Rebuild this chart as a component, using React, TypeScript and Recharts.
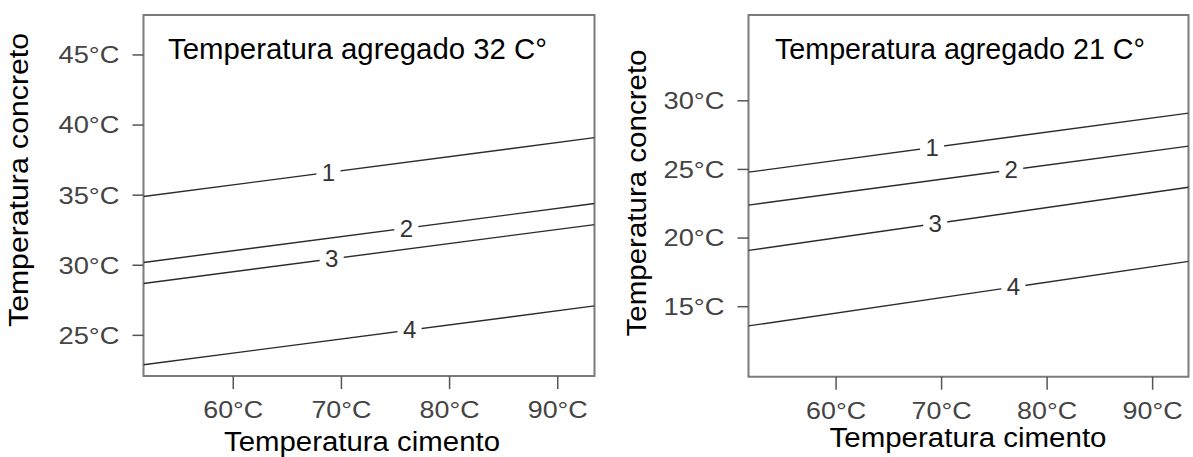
import React from "react";
import { LineChart, Line, XAxis, YAxis, ReferenceArea, ReferenceDot } from "recharts";

const FONT = "'Liberation Sans', Arial, Helvetica, sans-serif";

const curveIds = ["1", "2", "3", "4"];
const cementRange = [51.7, 93.4];
const cementTicks = [60, 70, 80, 90];

// agregado 32 °C
const agg32Ticks = [25, 30, 35, 40, 45];
const agg32Range = [22.1, 47.85];
const agg32Start = [34.9, 30.2, 28.7, 22.9];
const agg32End = [39.1, 34.4, 32.9, 27.1];
const agg32LabelAt = [68.8, 76.0, 69.1, 76.3];

// agregado 21 °C
const agg21Ticks = [15, 20, 25, 30];
const agg21Range = [9.9, 36.25];
const agg21Start = [24.8, 22.4, 19.1, 13.6];
const agg21End = [29.1, 26.7, 23.7, 18.3];
const agg21LabelAt = [69.1, 76.6, 69.4, 76.8];

function YTick(props: any) {
  const { x, y, payload } = props;
  return (
    <text x={x} y={y} dy="0.35em" textAnchor="end" fontSize={24} fill="#444" fontFamily={FONT}
      textLength={61} lengthAdjust="spacingAndGlyphs">
      {payload.value}°C
    </text>
  );
}

function XTick(props: any) {
  const { x, y, payload } = props;
  return (
    <text x={x} y={y + 29} textAnchor="middle" fontSize={24} fill="#444" fontFamily={FONT}
      textLength={60} lengthAdjust="spacingAndGlyphs">
      {payload.value}°C
    </text>
  );
}

function CurveTag(props: any) {
  const { cx, cy, name } = props;
  return (
    <g>
      <rect x={cx - 12} y={cy - 10} width={24} height={20} fill="#fff" />
      <text x={cx} y={cy} dy="0.35em" textAnchor="middle" fontSize={24} fill="#333" fontFamily={FONT}>
        {name}
      </text>
    </g>
  );
}

interface PanelProps {
  width: number;
  yAxisWidth: number;
  right: number;
  xAxisHeight: number;
  yRange: number[];
  yTicks: number[];
  start: number[];
  end: number[];
  labelAt: number[];
}

function Panel({ width, yAxisWidth, right, xAxisHeight, yRange, yTicks, start, end, labelAt }: PanelProps) {
  const data = [
    Object.fromEntries([["x", cementRange[0]], ...curveIds.map((id, i) => [`c${id}`, start[i]])]),
    Object.fromEntries([["x", cementRange[1]], ...curveIds.map((id, i) => [`c${id}`, end[i]])]),
  ];
  const span = cementRange[1] - cementRange[0];

  return (
    <LineChart width={width} height={457} data={data} margin={{ top: 15, right, bottom: 0, left: 0 }}>
      <XAxis dataKey="x" type="number" domain={cementRange} allowDataOverflow ticks={cementTicks}
        axisLine={false} tickSize={13} tickMargin={0} height={xAxisHeight}
        tickLine={{ stroke: "#555", strokeWidth: 1.5 }} tick={<XTick />} />
      <YAxis type="number" domain={yRange} allowDataOverflow ticks={yTicks} width={yAxisWidth}
        axisLine={false} tickSize={11} tickMargin={13}
        tickLine={{ stroke: "#555", strokeWidth: 1.5 }} tick={<YTick />} />
      <ReferenceArea x1={cementRange[0]} x2={cementRange[1]} y1={yRange[0]} y2={yRange[1]}
        fill="#fff" fillOpacity={0} stroke="#7b7b7b" strokeWidth={2} />
      {curveIds.map((id) => (
        <Line key={id} type="linear" dataKey={`c${id}`} stroke="#2b2b2b" strokeWidth={1.4}
          dot={false} activeDot={false} isAnimationActive={false} />
      ))}
      {curveIds.map((id, i) => {
        const t = (labelAt[i] - cementRange[0]) / span;
        const yv = start[i] + (end[i] - start[i]) * t;
        return (
          <ReferenceDot key={`tag${id}`} x={labelAt[i]} y={yv} r={1}
            shape={(p: any) => <CurveTag cx={p.cx} cy={p.cy} name={id} />} />
        );
      })}
    </LineChart>
  );
}

export default function App() {
  return (
    <div style={{ position: "fixed", left: 0, top: 0, width: 1193, height: 457, background: "#fff" }}>
      <div style={{ position: "absolute", left: 0, top: 0 }}>
        <Panel width={600} yAxisWidth={143.5} right={5.5} xAxisHeight={81}
          yRange={agg32Range} yTicks={agg32Ticks} start={agg32Start} end={agg32End} labelAt={agg32LabelAt} />
      </div>
      <div style={{ position: "absolute", left: 600, top: 0 }}>
        <Panel width={593} yAxisWidth={148.5} right={4.5} xAxisHeight={80.3}
          yRange={agg21Range} yTicks={agg21Ticks} start={agg21Start} end={agg21End} labelAt={agg21LabelAt} />
      </div>
      <svg width={1193} height={457} style={{ position: "absolute", left: 0, top: 0, pointerEvents: "none" }}
        fontFamily={FONT} fill="#000">
        <text x={168} y={59} fontSize={30} textLength={379} lengthAdjust="spacingAndGlyphs">Temperatura agregado 32 C°</text>
        <text x={775} y={59} fontSize={30} textLength={370} lengthAdjust="spacingAndGlyphs">Temperatura agregado 21 C°</text>
        <text x={362} y={451} fontSize={27} textAnchor="middle" textLength={276} lengthAdjust="spacingAndGlyphs">Temperatura cimento</text>
        <text x={968} y={447} fontSize={27} textAnchor="middle" textLength={277} lengthAdjust="spacingAndGlyphs">Temperatura cimento</text>
        <text transform="translate(28,180) rotate(-90)" fontSize={27} textAnchor="middle" textLength={294} lengthAdjust="spacingAndGlyphs">Temperatura concreto</text>
        <text transform="translate(646,193) rotate(-90)" fontSize={27} textAnchor="middle" textLength={287} lengthAdjust="spacingAndGlyphs">Temperatura concreto</text>
      </svg>
    </div>
  );
}
